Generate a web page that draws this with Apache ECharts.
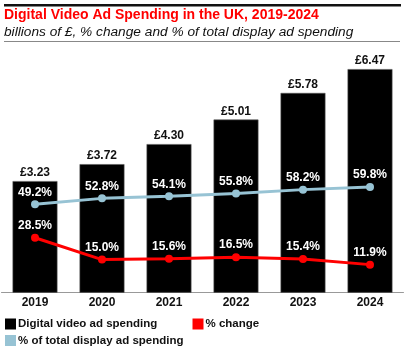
<!DOCTYPE html>
<html>
<head>
<meta charset="utf-8">
<script src="https://cdn.jsdelivr.net/npm/echarts@6/dist/echarts.min.js"></script>
<style>html,body{margin:0;padding:0;background:#fff;}#c{width:405px;height:357px;}</style>
</head>
<body>
<div id="c"></div>
<script>
var years = ['2019', '2020', '2021', '2022', '2023', '2024'];
var spending = [3.23, 3.72, 4.30, 5.01, 5.78, 6.47];
var pctChange = [28.5, 15.0, 15.6, 16.5, 15.4, 11.9];
var pctDisplay = [49.2, 52.8, 54.1, 55.8, 58.2, 59.8];

var FONT = 'Liberation Sans, Arial, sans-serif';
var legendText = { fontSize: 11.5, fontWeight: 'bold', color: '#111', padding: [0, 0, 0, -3] };
var chart = echarts.init(document.getElementById('c'));
chart.setOption({
  animation: false,
  textStyle: { fontFamily: FONT },
  title: [
    { text: 'Digital Video Ad Spending in the UK, 2019-2024', left: 4, top: 7, padding: 0,
      textStyle: { color: '#ff0000', fontSize: 14, fontWeight: 'bold', fontFamily: FONT, lineHeight: 16 } },
    { text: 'billions of £, % change and % of total display ad spending', left: 4, top: 24, padding: 0,
      textStyle: { color: '#111', fontSize: 13.7, fontWeight: 'normal', fontStyle: 'italic', fontFamily: FONT, lineHeight: 16 } }
  ],
  graphic: [
    { type: 'rect', shape: { x: 4, y: 4, width: 397, height: 2.5 }, style: { fill: '#111' } },
    { type: 'rect', shape: { x: 4, y: 41, width: 396, height: 1 }, style: { fill: '#888' } }
  ],
  legend: [
    { data: [{ name: 'Digital video ad spending', icon: 'rect' }], left: 5, top: 318, padding: 0, itemWidth: 11, itemHeight: 11,
      itemStyle: { borderWidth: 0 }, textStyle: legendText },
    { data: [{ name: '% change', icon: 'rect' }], left: 192.5, top: 318, padding: 0, itemWidth: 11, itemHeight: 11,
      itemStyle: { borderWidth: 0 }, textStyle: legendText },
    { data: [{ name: '% of total display ad spending', icon: 'rect' }], left: 5, top: 334.5, padding: 0, itemWidth: 11, itemHeight: 11,
      itemStyle: { borderWidth: 0 }, textStyle: legendText }
  ],
  grid: { left: 1.5, right: 1.5, top: 50.8, bottom: 64.3, containLabel: false },
  xAxis: {
    type: 'category', data: years,
    axisLine: { show: true, lineStyle: { color: '#999', width: 1 } },
    axisTick: { show: false },
    axisLabel: { color: '#111', fontSize: 12, fontWeight: 'bold', margin: 4 }
  },
  yAxis: [
    { type: 'value', min: 0, max: 7, show: false, splitLine: { show: false } },
    { type: 'value', min: -5.43, max: 143.9, show: false, splitLine: { show: false } }
  ],
  series: [
    { name: 'Digital video ad spending', type: 'bar', data: spending, barCategoryGap: '33%',
      itemStyle: { color: '#000', borderColor: '#555', borderWidth: 0.6 },
      label: { show: true, position: 'top', distance: 2, color: '#111', fontSize: 12, fontWeight: 'bold',
        formatter: function (p) { return '£' + p.value.toFixed(2); } } },
    { name: '% change', type: 'line', yAxisIndex: 1, data: pctChange, symbol: 'circle', symbolSize: 8,
      lineStyle: { color: '#ff0000', width: 3 }, itemStyle: { color: '#ff0000' },
      label: { show: true, position: 'top', distance: 2, color: '#fff', fontSize: 12, fontWeight: 'bold',
        formatter: function (p) { return p.value.toFixed(1) + '%'; } } },
    { name: '% of total display ad spending', type: 'line', yAxisIndex: 1, data: pctDisplay, symbol: 'circle', symbolSize: 8,
      lineStyle: { color: '#97c3d4', width: 3 }, itemStyle: { color: '#97c3d4' },
      label: { show: true, position: 'top', distance: 2, color: '#fff', fontSize: 12, fontWeight: 'bold',
        formatter: function (p) { return p.value.toFixed(1) + '%'; } } }
  ]
});
</script>
</body>
</html>
